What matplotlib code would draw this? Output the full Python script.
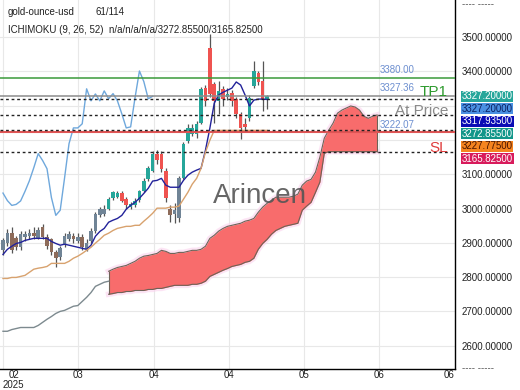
import numpy as np
import matplotlib
matplotlib.use("Agg")
import matplotlib.pyplot as plt

plt.rcParams['font.family'] = ['Liberation Sans', 'DejaVu Sans']

# daily candles (61 bars)
opens = [2878, 2898, 2930, 2913, 2887, 2916, 2920, 2930, 2915, 2945,
         2916, 2910, 2872, 2858, 2895, 2910, 2920, 2905, 2916, 2882,
         2905, 2935, 2980, 2985, 3000, 3030, 3035, 3044, 3028, 3005,
         3010, 3025, 3052, 3085, 3110, 3160, 3160, 3110, 3000, 2985,
         2971, 3090, 3198, 3218, 3218, 3250, 3352, 3468, 3363, 3314,
         3349, 3325, 3337, 3320, 3276, 3245, 3265, 3358, 3395, 3372,
         3318]
highs = [2913, 2940, 2945, 2920, 2935, 2935, 2940, 2945, 2945, 2955,
         2925, 2915, 2880, 2892, 2928, 2935, 2930, 2928, 2925, 2910,
         2942, 2990, 3005, 3010, 3035, 3052, 3050, 3050, 3035, 3020,
         3030, 3055, 3088, 3125, 3168, 3172, 3168, 3118, 3010, 3015,
         3095, 3195, 3245, 3245, 3255, 3355, 3360, 3509, 3370, 3372,
         3358, 3350, 3345, 3325, 3280, 3265, 3330, 3430, 3400, 3430,
         3330]
lows = [2863, 2890, 2870, 2880, 2880, 2905, 2912, 2912, 2910, 2912,
        2882, 2865, 2829, 2850, 2888, 2905, 2900, 2898, 2880, 2875,
        2900, 2930, 2975, 2978, 2995, 3025, 3030, 3018, 2998, 2998,
        3005, 3020, 3048, 3080, 3105, 3130, 3105, 3020, 2960, 2958,
        2960, 3085, 3190, 3210, 3205, 3245, 3300, 3325, 3250, 3276,
        3300, 3315, 3300, 3265, 3203, 3225, 3255, 3350, 3360, 3285,
        3290]
closes = [2907, 2930, 2878, 2887, 2925, 2925, 2930, 2920, 2936, 2918,
          2890, 2872, 2855, 2885, 2920, 2925, 2912, 2918, 2887, 2900,
          2935, 2985, 2998, 3000, 3029, 3047, 3045, 3023, 3009, 3012,
          3022, 3050, 3081, 3119, 3160, 3140, 3116, 3032, 2980, 2995,
          3090, 3189, 3235, 3235, 3247, 3349, 3314, 3334, 3314, 3343,
          3320, 3335, 3314, 3276, 3235, 3238, 3323, 3401, 3370, 3320,
          3327.2]

# ichimoku lines
tenkan = [2866, 2881, 2890, 2898, 2901, 2907, 2910, 2913, 2913, 2913,
          2913, 2904, 2898, 2893, 2896, 2893, 2890, 2887, 2884, 2881,
          2893, 2919, 2933, 2942, 2960, 2966, 2971, 2980, 2998, 3009,
          3018, 3030, 3044, 3059, 3080, 3082, 3088, 3068, 3062, 3062,
          3062, 3082, 3097, 3106, 3112, 3117, 3170, 3234, 3307, 3331,
          3339, 3345, 3351, 3369, 3360, 3331, 3299, 3316, 3319, 3319,
          3317.935]
kijun = [2796, 2796, 2799, 2799, 2802, 2805, 2814, 2823, 2826, 2828,
         2831, 2840, 2840, 2840, 2840, 2846, 2855, 2861, 2869, 2878,
         2887, 2899, 2910, 2922, 2928, 2936, 2942, 2945, 2948, 2948,
         2951, 2951, 2963, 2974, 2986, 3001, 3001, 3001, 3004, 3004,
         3007, 3027, 3047, 3071, 3088, 3117, 3164, 3199, 3227.775, 3227.775,
         3227.775, 3227.775, 3227.775, 3227.775, 3227.775, 3227.775, 3227.775,
         3227.775, 3227.775, 3227.775, 3227.775]
lead_line = [2642, 2642, 2647, 2650, 2653, 2653, 2653, 2653, 2659, 2668,
             2677, 2685, 2694, 2700, 2703, 2709, 2715, 2717, 2729, 2741,
             2755, 2773, 2779, 2785, 2788]
# cloud, bars 24..85 (shifted 26 bars ahead)
span_a = [2817, 2823, 2828, 2831, 2834, 2840, 2846, 2855, 2861, 2863,
          2866, 2869, 2878, 2875, 2869, 2869, 2872, 2872, 2875, 2878,
          2878, 2881, 2890, 2913, 2922, 2934, 2942, 2948, 2951, 2954,
          2957, 2963, 2966, 2971, 2989, 3004, 3015, 3024, 3033, 3033,
          3033, 3033, 3036, 3042, 3068, 3080, 3085, 3106, 3150, 3205,
          3228, 3249, 3278, 3287, 3293, 3299, 3296, 3287, 3269, 3263,
          3269, 3272.855]
span_b = [2750, 2752, 2755, 2755, 2758, 2758, 2761, 2761, 2761, 2764,
          2764, 2767, 2767, 2770, 2773, 2776, 2776, 2776, 2776, 2779,
          2779, 2782, 2788, 2802, 2808, 2814, 2820, 2825, 2831, 2834,
          2837, 2843, 2846, 2855, 2881, 2898, 2910, 2925, 2936, 2942,
          2948, 2951, 2954, 2957, 2995, 3007, 3018, 3047, 3077, 3161,
          3165.825, 3165.825, 3165.825, 3165.825, 3165.825, 3165.825,
          3165.825, 3165.825, 3165.825, 3165.825, 3165.825, 3165.825]

tp1 = 3380.00
at_price = 3327.36
sl = 3222.07
levels = [3317.935, 3272.855, 3227.775, 3165.825]

tag_values = [3327.2, 3327.2, 3317.935, 3272.855, 3227.775, 3165.825]
tag_colors = ['#26a69a', '#4a90e2', '#0b0bb5', '#12968a', '#f5841f', '#d81b5c']
tag_text = ['white', '#0a2060', 'white', 'white', '#4a1500', 'white']

y_ticks = list(range(2600, 3600, 100))
hidden_ticks = [3200, 3300]   # covered by the price tags
x_labels = ['02\n2025', '03', '04', '04', '05', '06', '06']
x_ticks = [0, 17.1, 34.2, 51.3, 68.4, 85.5, 102.6]
muted = list(range(0, 24)) + [38, 39, 40]

fig = plt.figure(figsize=(5.2, 3.9), dpi=100)
ax = fig.add_axes([0, 21 / 390, 455 / 520, 369 / 390])
ax.set_xlim(-0.68, 102.7)
ax.set_ylim(2532, 3608)

# cloud
xc = np.arange(24, 24 + len(span_a))
ax.plot(xc, span_a, color='#fbd3ee', lw=4, alpha=0.6, zorder=1)
ax.plot(xc, span_b, color='#fbd3ee', lw=4, alpha=0.6, zorder=1)
ax.fill_between(xc, span_a, span_b, color='#f86c6c', lw=0, zorder=2)
ax.plot(xc, span_a, color='#6e6257', lw=0.8, zorder=2)
ax.plot(xc, span_b, color='#6e6257', lw=0.8, zorder=2)
ax.vlines([xc[0], xc[-1]], [span_b[0], span_b[-1]], [span_a[0], span_a[-1]],
          color='#6e6257', lw=0.8, zorder=2)
ax.plot(range(len(lead_line)), lead_line, color='#7d8a8f', lw=1, zorder=2)

# candles
idx = np.arange(len(closes))
o = np.array(opens); c = np.array(closes)
up = c >= o
col = []
for i in idx:
    if i in muted:
        col.append('#708496' if up[i] else '#8d6b5a')
    else:
        col.append('#26a69a' if up[i] else '#ef5350')
ax.vlines(idx, lows, highs, color='#555555', lw=0.9, zorder=3)
body = np.maximum(np.abs(c - o), 3)
ax.bar(idx, body, bottom=np.minimum(o, c), width=0.8, color=col, lw=0, zorder=4)

ax.plot(idx, tenkan, color='#22229a', lw=1, zorder=5)
ax.plot(idx, kijun, color='#d8a26e', lw=1, zorder=5)
ax.plot(np.arange(len(closes) - 26), closes[26:], color='#6fa8dc', lw=1, zorder=5)

# price levels
ax.axhline(tp1, color='#3a9a3a', lw=1.1, zorder=6)
ax.axhline(at_price, color='#8c8c8c', lw=1.1, zorder=6)
ax.axhline(sl, color='#e05555', lw=1.5, zorder=6)
for v in levels:
    ax.axhline(v, color='#222222', lw=1, ls=(0, (2, 2)), zorder=6)

yt = ax.get_yaxis_transform()
for v in [tp1, at_price, sl]:
    ax.annotate(f'{v:.2f}', xy=(380 / 455, v), xycoords=yt, xytext=(0, 2),
                textcoords='offset points', fontsize=7, color='#6d8fd0',
                va='bottom', ha='left', zorder=7)
ax.annotate('TP1', xy=(448 / 455, at_price), xycoords=yt, fontsize=11,
            color='#2e9a2e', ha='right', va='baseline', zorder=7)
ax.annotate('At Price', xy=(448 / 455, levels[1]), xycoords=yt, fontsize=11,
            color='#8a8a8a', ha='right', va='baseline', zorder=7)
ax.annotate('SL', xy=(448 / 455, levels[3]), xycoords=yt, fontsize=11,
            color='#e03c3c', ha='right', va='baseline', zorder=7)

for k, (v, fc, tc) in enumerate(zip(tag_values, tag_colors, tag_text)):
    ax.annotate(f'{v:.5f}', xy=(1, tag_values[0]), xycoords=yt,
                xytext=(5.0, -k * 9.0), textcoords='offset points',
                fontsize=7, color=tc, ha='left', va='center',
                bbox=dict(boxstyle='square,pad=0.05', fc=fc, ec='none'),
                annotation_clip=False, zorder=8)

# axes styling
ax.yaxis.tick_right()
ax.set_yticks(y_ticks)
ax.set_yticklabels(['' if v in hidden_ticks else f'{v:.5f}' for v in y_ticks])
ax.set_xticks(x_ticks)
ax.set_xticklabels(x_labels, linespacing=0.95)
xl = ax.get_xticklabels()
xl[0].set_ha('left')
xl[0].set_multialignment('center')
xl[-1].set_ha('right')
ax.tick_params(axis='y', length=0, pad=5, labelsize=7, labelcolor='#222222')
ax.tick_params(axis='x', length=0, pad=1, labelsize=7, labelcolor='#222222')
ax.grid(True, color='#e8e8e8', lw=0.8)
ax.set_axisbelow(True)
for s in ['top', 'left']:
    ax.spines[s].set_visible(False)
for s in ['right', 'bottom']:
    ax.spines[s].set_color('black')
    ax.spines[s].set_linewidth(1)

fig.text(8 / 520, 1 - 15 / 390, 'gold-ounce-usd', fontsize=7, color='#222222', va='baseline')
fig.text(95 / 520, 1 - 15 / 390, '61/114', fontsize=7, color='#222222', va='baseline')
fig.text(8 / 520, 1 - 33 / 390, 'ICHIMOKU (9, 26, 52)  n/a/n/a/n/a/3272.85500/3165.82500',
         fontsize=7, color='#222222', va='baseline')
fig.text(462 / 520, 1 - 4 / 390, '---- -----', fontsize=7, color='#555555', va='center')
fig.text(462 / 520, 1 - 368 / 390, '---- -----', fontsize=7, color='#555555', va='center')
fig.text(213 / 520, 1 - 203 / 390, 'Arincen', fontsize=20, color='#555555', alpha=0.9,
         va='baseline', zorder=10)

fig.savefig('out.png', dpi=100, facecolor='white')
